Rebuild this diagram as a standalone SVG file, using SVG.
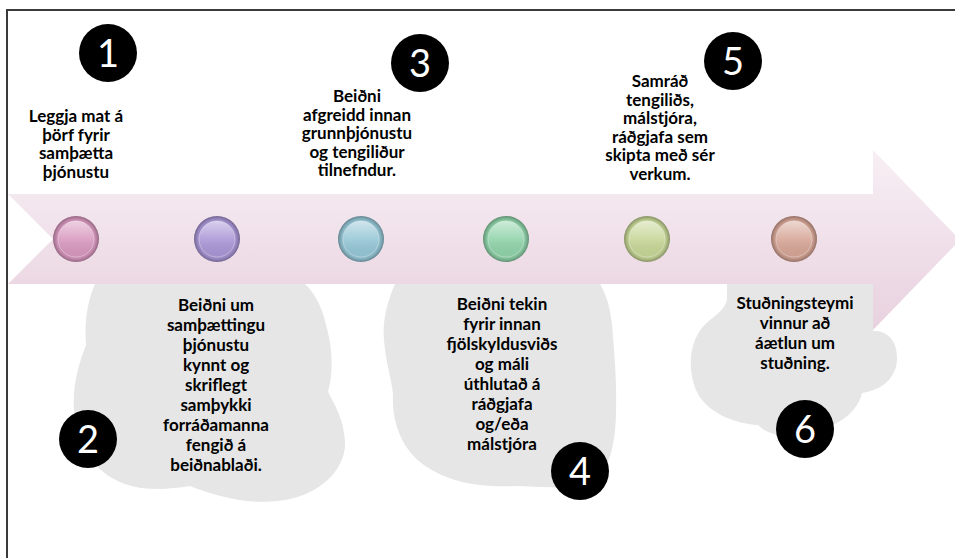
<svg xmlns="http://www.w3.org/2000/svg" width="955" height="558" viewBox="0 0 955 558">
<defs>
<linearGradient id="band" gradientUnits="userSpaceOnUse" x1="0" y1="150" x2="0" y2="330">
<stop offset="0" stop-color="#f7eff4"/><stop offset="0.25" stop-color="#f4e8ef"/><stop offset="0.75" stop-color="#ecd8e4"/><stop offset="1" stop-color="#e8d2df"/>
</linearGradient>
<radialGradient id="rim" cx="0.5" cy="0.5" r="0.5">
<stop offset="0.72" stop-color="#000" stop-opacity="0"/><stop offset="0.86" stop-color="#000" stop-opacity="0.1"/><stop offset="1" stop-color="#000" stop-opacity="0.32"/>
</radialGradient>
<linearGradient id="gloss" x1="0" y1="0" x2="0" y2="1">
<stop offset="0" stop-color="#fff" stop-opacity="0.55"/><stop offset="0.5" stop-color="#fff" stop-opacity="0.12"/><stop offset="1" stop-color="#000" stop-opacity="0.04"/>
</linearGradient>
</defs>
<style>
.t{font-family:Lato,"Liberation Sans",sans-serif;font-weight:bold;font-size:17px;fill:#000;text-anchor:middle}
.n{font-family:Lato,"Liberation Sans",sans-serif;font-size:38px;fill:#fff;text-anchor:middle}
.cloud{fill:#e6e6e6}
.badge{fill:#000}
.rim{fill:url(#rim)}
.gl{fill:url(#gloss);stroke:#fff;stroke-opacity:0.35;stroke-width:1}
</style>
<g id="frame"><path d="M7,558 V10 H955" fill="none" stroke="#3a3a3a" stroke-width="2"/></g>
<g id="connectors">
<path d="M8,194 H873 V150 L960,240 L873,330 V284 H8 L53,239 Z" fill="url(#band)"/>
</g>
<g id="step1">
<text class="t" x="76" y="122"><tspan x="76">Leggja mat á</tspan><tspan x="76" dy="18.5">þörf fyrir</tspan><tspan x="76" dy="18.5">samþætta</tspan><tspan x="76" dy="18.5">þjónustu</tspan></text>
<circle class="badge" cx="108" cy="53" r="29"/><text class="n" x="108" y="67">1</text>
<g transform="translate(76,239)"><circle r="23" fill="#d898bf"/><circle r="23" class="rim"/><circle r="18" class="gl"/></g>
</g>
<g id="step2">
<path class="cloud" d="M95,284 C88,300 84,320 86,345 C80,360 72,385 74,410 C76,440 90,465 112,478 C135,492 165,490 190,486 C215,496 250,506 285,500 C320,494 346,470 345,442 C344,420 335,405 328,392 C334,370 332,345 326,325 C322,305 312,290 305,284 Z"/>
<text class="t" x="216" y="311"><tspan x="216">Beiðni um</tspan><tspan x="216" dy="20">samþættingu</tspan><tspan x="216" dy="20">þjónustu</tspan><tspan x="216" dy="20">kynnt og</tspan><tspan x="216" dy="20">skriflegt</tspan><tspan x="216" dy="20">samþykki</tspan><tspan x="216" dy="20">forráðamanna</tspan><tspan x="216" dy="20">fengið á</tspan><tspan x="216" dy="20">beiðnablaði.</tspan></text>
<circle class="badge" cx="88" cy="439" r="29"/><text class="n" x="88" y="453">2</text>
<g transform="translate(217,239)"><circle r="23" fill="#a996d6"/><circle r="23" class="rim"/><circle r="18" class="gl"/></g>
</g>
<g id="step3">
<text class="t" x="357" y="102"><tspan x="357">Beiðni</tspan><tspan x="357" dy="18.5">afgreidd innan</tspan><tspan x="357" dy="18.5">grunnþjónustu</tspan><tspan x="357" dy="18.5">og tengiliður</tspan><tspan x="357" dy="18.5">tilnefndur.</tspan></text>
<circle class="badge" cx="420" cy="63" r="29"/><text class="n" x="420" y="77">3</text>
<g transform="translate(361,239)"><circle r="23" fill="#95c6d6"/><circle r="23" class="rim"/><circle r="18" class="gl"/></g>
</g>
<g id="step4">
<path class="cloud" d="M395,284 C388,300 382,320 384,340 C386,365 392,380 393,395 C392,420 400,445 420,462 C445,482 480,488 515,486 C545,487 570,490 595,480 C610,470 616,440 616,410 C617,380 614,350 612,325 C610,305 605,292 600,284 Z"/>
<text class="t" x="502" y="310"><tspan x="502">Beiðni tekin</tspan><tspan x="502" dy="20">fyrir innan</tspan><tspan x="502" dy="20">fjölskyldusviðs</tspan><tspan x="502" dy="20">og máli</tspan><tspan x="502" dy="20">úthlutað á</tspan><tspan x="502" dy="20">ráðgjafa</tspan><tspan x="502" dy="20">og/eða</tspan><tspan x="502" dy="20">málstjóra</tspan></text>
<circle class="badge" cx="580" cy="471" r="29"/><text class="n" x="580" y="485">4</text>
<g transform="translate(506,239)"><circle r="23" fill="#8fd3a9"/><circle r="23" class="rim"/><circle r="18" class="gl"/></g>
</g>
<g id="step5">
<text class="t" x="660" y="87"><tspan x="660">Samráð</tspan><tspan x="660" dy="18.6">tengiliðs,</tspan><tspan x="660" dy="18.6">málstjóra,</tspan><tspan x="660" dy="18.6">ráðgjafa sem</tspan><tspan x="660" dy="18.6">skipta með sér</tspan><tspan x="660" dy="18.6">verkum.</tspan></text>
<circle class="badge" cx="733" cy="61" r="29"/><text class="n" x="733" y="75">5</text>
<g transform="translate(647,239)"><circle r="23" fill="#c6d696"/><circle r="23" class="rim"/><circle r="18" class="gl"/></g>
</g>
<g id="step6">
<path class="cloud" d="M727,284 L873,284 L873,331 C888,330 898,342 897,360 C896,378 882,390 862,393 C858,410 842,424 822,428 C800,440 770,438 758,425 C735,424 705,412 696,390 C686,365 690,335 710,320 C720,313 727,305 727,298 Z"/>
<text class="t" x="795" y="309"><tspan x="795">Stuðningsteymi</tspan><tspan x="795" dy="20">vinnur að</tspan><tspan x="795" dy="20">áætlun um</tspan><tspan x="795" dy="20">stuðning.</tspan></text>
<circle class="badge" cx="805" cy="429" r="29"/><text class="n" x="805" y="443">6</text>
<g transform="translate(794,239)"><circle r="23" fill="#d6a596"/><circle r="23" class="rim"/><circle r="18" class="gl"/></g>
</g>
</svg>
